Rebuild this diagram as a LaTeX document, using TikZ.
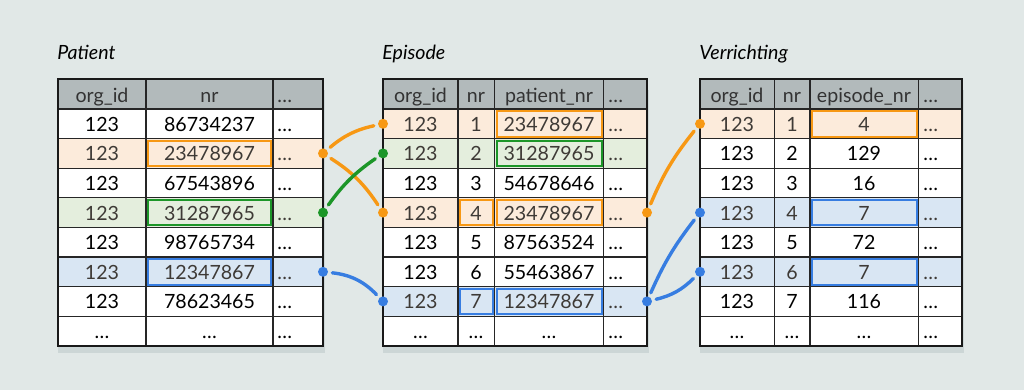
\documentclass[tikz,border=0pt]{standalone}
\usepackage{fontspec}
\setmainfont{Lato}
\usetikzlibrary{calc}

\definecolor{bgcol}{RGB}{225,232,231}
\definecolor{shdcol}{RGB}{204,214,214}
\definecolor{hdrcol}{RGB}{178,186,187}
\definecolor{orgline}{RGB}{247,152,20}
\definecolor{grnline}{RGB}{28,150,40}
\definecolor{bluline}{RGB}{55,125,225}
\definecolor{orgfill}{RGB}{252,235,219}
\definecolor{grnfill}{RGB}{228,238,221}
\definecolor{blufill}{RGB}{217,230,243}
\definecolor{hltxt}{RGB}{62,58,54}

\begin{document}
\begin{tikzpicture}
  [x=0.5pt, y=-0.5pt,
  txt/.style={font=\fontsize{9.8}{12}\selectfont, inner sep=0pt, anchor=base},
  dtxt/.style={txt, anchor=base west},
  ttl/.style={font=\fontsize{9.8}{12}\selectfont\itshape, inner sep=0pt, anchor=base west},
  grid/.style={line width=0.65pt, draw=black!85},
  frame/.style={line width=1pt, draw=black!90},
  hlbox/.style={line width=1pt},
  dot/.style={circle, inner sep=0pt, minimum size=5pt},
  link/.style={line width=1.7pt, line cap=round, shorten <=2pt, shorten >=2pt}]
  \def\rh{29.6}
  % background
  \fill[bgcol] (0,0) rectangle (1024,390);
  \useasboundingbox (0,0) rectangle (1024,390);
  % titles
  \node[ttl] (patT) at (57,60)  {Patient};
  \node[ttl] (epiT) at (382,60) {Episode};
  \node[ttl] (verT) at (699,60) {Verrichting};
  % shadows
  \fill[shdcol] (58,90)  rectangle (325,353);
  \fill[shdcol] (383,90) rectangle (649,353);
  \fill[shdcol] (700,90) rectangle (964,353);
  % table bodies
  \fill[white] (58,79)  rectangle (323,345.8);
  \fill[white] (383,79) rectangle (647,345.8);
  \fill[white] (700,79) rectangle (962,345.8);
  \fill[hdrcol] (58,79)  rectangle (323,109);
  \fill[hdrcol] (383,79) rectangle (647,109);
  \fill[hdrcol] (700,79) rectangle (962,109);
  % highlighted rows
  \fill[orgfill] (58,138.6) rectangle (323,168.2);
  \fill[grnfill] (58,197.8) rectangle (323,227.4);
  \fill[blufill] (58,257)   rectangle (323,286.6);
  \fill[orgfill] (383,109)   rectangle (647,138.6);
  \fill[grnfill] (383,138.6) rectangle (647,168.2);
  \fill[orgfill] (383,197.8) rectangle (647,227.4);
  \fill[blufill] (383,286.6) rectangle (647,316.2);
  \fill[orgfill] (700,109)   rectangle (962,138.6);
  \fill[blufill] (700,197.8) rectangle (962,227.4);
  \fill[blufill] (700,257)   rectangle (962,286.6);
  % grids
  \foreach \i in {0,...,7} {
    \draw[grid] (58,{109+\i*\rh})  -- (323,{109+\i*\rh});
    \draw[grid] (383,{109+\i*\rh}) -- (647,{109+\i*\rh});
    \draw[grid] (700,{109+\i*\rh}) -- (962,{109+\i*\rh});
  }
  \foreach \x in {146,273}
    \draw[grid] (\x,79) -- (\x,345.8);
  \foreach \x in {458,494.5,603.5}
    \draw[grid] (\x,79) -- (\x,345.8);
  \foreach \x in {774.5,810,918.5}
    \draw[grid] (\x,79) -- (\x,345.8);
  \draw[frame] (58,79)  rectangle (323,345.8);
  \draw[frame] (383,79) rectangle (647,345.8);
  \draw[frame] (700,79) rectangle (962,345.8);
  % outlined cells
  \draw[hlbox, orgline] (148,140.6) rectangle (271,166.2);
  \draw[hlbox, grnline] (148,199.8) rectangle (271,225.4);
  \draw[hlbox, bluline] (148,259)   rectangle (271,284.6);
  \draw[hlbox, orgline] (496.5,111)   rectangle (601.5,136.6);
  \draw[hlbox, grnline] (496.5,140.6) rectangle (601.5,166.2);
  \draw[hlbox, orgline] (460,199.8)   rectangle (492.5,225.4);
  \draw[hlbox, orgline] (496.5,199.8) rectangle (601.5,225.4);
  \draw[hlbox, bluline] (460,288.6)   rectangle (492.5,314.2);
  \draw[hlbox, bluline] (496.5,288.6) rectangle (601.5,314.2);
  \draw[hlbox, orgline] (812,111)   rectangle (916.5,136.6);
  \draw[hlbox, bluline] (812,199.8) rectangle (916.5,225.4);
  \draw[hlbox, bluline] (812,259)   rectangle (916.5,284.6);
  % headers
  \node[txt, text=black!80]  (pat-h-a) at (102,102.5)   {org\_id};
  \node[txt, text=black!80]  (pat-h-b) at (209.5,102.5) {nr};
  \node[dtxt, text=black!80] (pat-h-c) at (277,102.5)   {\ldots};
  \node[txt, text=black!80]  (epi-h-a) at (420.5,102.5) {org\_id};
  \node[txt, text=black!80]  (epi-h-b) at (476,102.5)   {nr};
  \node[txt, text=black!80]  (epi-h-c) at (549,102.5)   {patient\_nr};
  \node[dtxt, text=black!80] (epi-h-d) at (608,102.5)   {\ldots};
  \node[txt, text=black!80]  (ver-h-a) at (737,102.5)   {org\_id};
  \node[txt, text=black!80]  (ver-h-b) at (792,102.5)   {nr};
  \node[txt, text=black!80]  (ver-h-c) at (864,102.5)   {episode\_nr};
  \node[dtxt, text=black!80] (ver-h-d) at (923,102.5)   {\ldots};
  % Patient rows
  \foreach \r/\nr/\tc in {1/86734237/black, 2/23478967/hltxt, 3/67543896/black,
      4/31287965/hltxt, 5/98765734/black, 6/12347867/hltxt, 7/78623465/black} {
    \node[txt, text=\tc]  (pat-\r-a) at (102,{109+(\r-0.5)*\rh+7.5})   {123};
    \node[txt, text=\tc]  (pat-\r-b) at (209.5,{109+(\r-0.5)*\rh+7.5}) {\nr};
    \node[dtxt, text=\tc] (pat-\r-c) at (277,{109+(\r-0.5)*\rh+7.5})   {\ldots};
  }
  % Episode rows
  \foreach \r/\pnr/\tc in {1/23478967/hltxt, 2/31287965/hltxt, 3/54678646/black,
      4/23478967/hltxt, 5/87563524/black, 6/55463867/black, 7/12347867/hltxt} {
    \node[txt, text=\tc]  (epi-\r-a) at (420.5,{109+(\r-0.5)*\rh+7.5}) {123};
    \node[txt, text=\tc]  (epi-\r-b) at (476,{109+(\r-0.5)*\rh+7.5})   {\r};
    \node[txt, text=\tc]  (epi-\r-c) at (549,{109+(\r-0.5)*\rh+7.5})   {\pnr};
    \node[dtxt, text=\tc] (epi-\r-d) at (608,{109+(\r-0.5)*\rh+7.5})   {\ldots};
  }
  % Verrichting rows
  \foreach \r/\enr/\tc in {1/4/hltxt, 2/129/black, 3/16/black, 4/7/hltxt,
      5/72/black, 6/7/hltxt, 7/116/black} {
    \node[txt, text=\tc]  (ver-\r-a) at (737,{109+(\r-0.5)*\rh+7.5}) {123};
    \node[txt, text=\tc]  (ver-\r-b) at (792,{109+(\r-0.5)*\rh+7.5}) {\r};
    \node[txt, text=\tc]  (ver-\r-c) at (864,{109+(\r-0.5)*\rh+7.5}) {\enr};
    \node[dtxt, text=\tc] (ver-\r-d) at (923,{109+(\r-0.5)*\rh+7.5}) {\ldots};
  }
  % last rows
  \foreach \x/\n in {102/a, 209.5/b, 420.5/c, 476/d, 549/e, 737/f, 792/g, 864/h}
    \node[txt] (dots-\n) at (\x,338.5) {\ldots};
  \node[dtxt] (dots-i) at (277,338.5) {\ldots};
  \node[dtxt] (dots-j) at (608,338.5) {\ldots};
  \node[dtxt] (dots-k) at (923,338.5) {\ldots};
  % link dots
  \node[dot, fill=orgline] (p2)  at (323,153.4) {};
  \node[dot, fill=grnline] (p4)  at (323,212.6) {};
  \node[dot, fill=bluline] (p6)  at (323,271.8) {};
  \node[dot, fill=orgline] (e1l) at (383,123.8) {};
  \node[dot, fill=grnline] (e2l) at (383,153.4) {};
  \node[dot, fill=orgline] (e4l) at (383,212.6) {};
  \node[dot, fill=bluline] (e7l) at (383,301.4) {};
  \node[dot, fill=orgline] (e4r) at (647,212.6) {};
  \node[dot, fill=bluline] (e7r) at (647,301.4) {};
  \node[dot, fill=orgline] (v1)  at (700,123.8) {};
  \node[dot, fill=bluline] (v4)  at (700,212.6) {};
  \node[dot, fill=bluline] (v6)  at (700,271.8) {};
  % links
  \draw[link, orgline] (p2)  to[bend left=14]  (e1l);
  \draw[link, orgline] (p2)  to[bend left=12]  (e4l);
  \draw[link, grnline] (p4)  to[bend left=10]  (e2l);
  \draw[link, bluline] (p6)  to[bend left=20]  (e7l);
  \draw[link, orgline] (e4r) to[bend left=8]   (v1);
  \draw[link, bluline] (e7r) to[bend left=7]   (v4);
  \draw[link, bluline] (e7r) to[bend right=16] (v6);
\end{tikzpicture}
\end{document}
